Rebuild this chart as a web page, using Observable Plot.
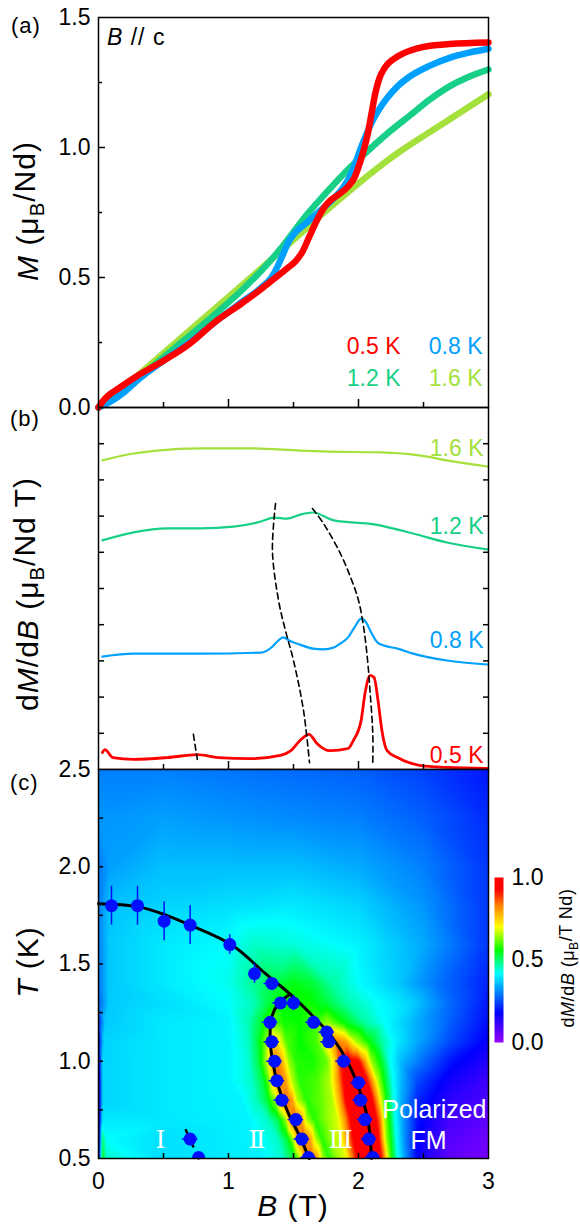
<!DOCTYPE html>
<html><head><meta charset="utf-8">
<script src="https://cdn.jsdelivr.net/npm/d3@7"></script>
<script src="https://cdn.jsdelivr.net/npm/@observablehq/plot@0.6"></script>
<style>
body{margin:0;background:#fff;}
#wrap{position:relative;width:580px;height:1226px;overflow:hidden;background:#fff;}
#wrap svg{position:absolute;left:0;top:0;}
</style></head><body><div id="wrap"></div>
<script>
// ---------- data ----------
const temps = ["0.5 K", "0.8 K", "1.2 K", "1.6 K"];
const tempColors = ["#ff0000", "#00a0ff", "#17cf86", "#a4e13c"];

// (a) magnetization M (muB/Nd) vs B (T)
const M05 = [[0,0],[0.03,0.022],[0.08,0.048],[0.15,0.072],[0.3,0.122],[0.5,0.18],[0.7,0.245],[0.9,0.33],[1.1,0.40],[1.25,0.455],[1.35,0.495],[1.45,0.535],[1.52,0.565],[1.57,0.6],[1.62,0.655],[1.68,0.72],[1.73,0.765],[1.78,0.795],[1.85,0.82],[1.92,0.85],[1.97,0.885],[2.0,0.925],[2.04,0.99],[2.07,1.05],[2.1,1.13],[2.13,1.21],[2.16,1.265],[2.2,1.305],[2.3,1.35],[2.4,1.373],[2.5,1.387],[2.7,1.398],[3.0,1.404]];
const M08 = [[0,0],[0.1,0.025],[0.2,0.06],[0.3,0.105],[0.5,0.18],[0.7,0.25],[0.9,0.33],[1.1,0.405],[1.25,0.46],[1.33,0.5],[1.38,0.545],[1.42,0.59],[1.46,0.635],[1.5,0.665],[1.6,0.71],[1.7,0.755],[1.8,0.8],[1.88,0.845],[1.94,0.895],[1.98,0.945],[2.02,1.0],[2.06,1.05],[2.1,1.095],[2.15,1.14],[2.22,1.19],[2.3,1.235],[2.4,1.275],[2.55,1.315],[2.7,1.345],[2.85,1.365],[3.0,1.38]];
const M12 = [[0,0],[0.15,0.05],[0.3,0.11],[0.6,0.235],[0.9,0.36],[1.1,0.45],[1.25,0.525],[1.4,0.61],[1.5,0.675],[1.6,0.74],[1.75,0.825],[1.86,0.885],[1.96,0.935],[2.1,1.0],[2.22,1.053],[2.4,1.125],[2.55,1.185],[2.7,1.235],[2.85,1.272],[3.0,1.30]];
const M16 = [[0,0],[0.15,0.055],[0.3,0.122],[0.6,0.252],[0.9,0.382],[1.1,0.468],[1.3,0.556],[1.5,0.645],[1.73,0.748],[2.0,0.862],[2.25,0.96],[2.55,1.06],[2.8,1.14],[3.0,1.205]];

// (b) dM/dB curves, vertically offset (arbitrary units)
const D05 = [[0.03,0.47],[0.05,0.55],[0.11,0.33],[0.27,0.28],[0.53,0.33],[0.76,0.41],[0.92,0.33],[1.17,0.30],[1.4,0.39],[1.48,0.52],[1.55,0.80],[1.62,0.97],[1.68,0.72],[1.78,0.52],[1.92,0.58],[1.96,0.80],[2.02,1.35],[2.05,2.10],[2.09,2.60],[2.12,2.54],[2.15,1.91],[2.18,1.08],[2.22,0.52],[2.3,0.33],[2.48,0.11],[2.68,0.06],[2.99,0.03]];
const D08 = [[0.03,3.12],[0.27,3.20],[0.78,3.20],[1.25,3.23],[1.33,3.37],[1.38,3.55],[1.42,3.65],[1.47,3.56],[1.55,3.45],[1.65,3.34],[1.73,3.32],[1.81,3.37],[1.86,3.48],[1.92,3.65],[1.97,3.93],[2.02,4.17],[2.06,4.06],[2.09,3.84],[2.146,3.51],[2.19,3.43],[2.3,3.34],[2.42,3.20],[2.68,3.01],[2.99,2.90]];
const D12 = [[0.03,6.33],[0.27,6.55],[0.53,6.66],[0.78,6.66],[1.04,6.71],[1.25,6.85],[1.35,6.96],[1.45,6.93],[1.55,7.04],[1.65,7.10],[1.81,6.88],[2.12,6.77],[2.42,6.52],[2.68,6.27],[2.99,6.08]];
const D16 = [[0.03,8.54],[0.27,8.73],[0.45,8.81],[0.78,8.87],[1.17,8.87],[1.55,8.81],[1.78,8.78],[2.17,8.76],[2.48,8.67],[2.68,8.54],[2.99,8.37]];
const guide1 = [[0.73,0.97],[0.76,0.28]];
const guide2 = [[1.362,7.35],[1.338,6.05],[1.385,4.67],[1.438,3.84],[1.50,3.01],[1.577,1.63],[1.623,0.19]];
const guide3 = [[1.646,7.21],[1.73,6.80],[1.86,5.97],[1.94,5.30],[2.0,4.67],[2.04,3.92],[2.07,3.01],[2.09,2.10],[2.11,0.99],[2.11,0.19]];

// (c) phase diagram: dM/dB map samples [B, value] per temperature row
const heatRows = [
 {T:2.5, s:[[0,0.30],[0.5,0.30],[1.0,0.29],[1.5,0.28],[2.0,0.27],[2.5,0.24],[3.0,0.20]]},
 {T:2.25,s:[[0,0.32],[0.5,0.33],[1.0,0.32],[1.5,0.31],[2.0,0.30],[2.5,0.27],[3.0,0.22]]},
 {T:2.0, s:[[0,0.29],[0.08,0.33],[0.5,0.36],[1.0,0.36],[1.5,0.36],[2.0,0.34],[2.5,0.30],[3.0,0.23]]},
 {T:1.8, s:[[0,0.30],[0.08,0.36],[0.5,0.38],[1.0,0.39],[1.5,0.40],[2.0,0.38],[2.5,0.32],[3.0,0.23]]},
 {T:1.6, s:[[0,0.30],[0.08,0.37],[0.5,0.40],[1.0,0.42],[1.2,0.45],[1.5,0.44],[2.0,0.41],[2.5,0.34],[3.0,0.23]]},
 {T:1.4, s:[[0,0.29],[0.08,0.37],[0.5,0.40],[1.0,0.43],[1.2,0.48],[1.35,0.52],[1.5,0.55],[1.65,0.53],[1.8,0.47],[2.0,0.42],[2.3,0.37],[2.6,0.29],[3.0,0.21]]},
 {T:1.3, s:[[0,0.27],[0.08,0.37],[0.5,0.39],[1.0,0.42],[1.2,0.46],[1.3,0.52],[1.4,0.56],[1.6,0.57],[1.75,0.53],[1.9,0.47],[2.1,0.43],[2.4,0.38],[2.7,0.28],[3.0,0.2]]},
 {T:1.2, s:[[0,0.22],[0.05,0.37],[0.5,0.40],[1.0,0.41],[1.15,0.46],[1.25,0.53],[1.33,0.62],[1.42,0.57],[1.55,0.56],[1.68,0.6],[1.76,0.64],[1.88,0.56],[2.05,0.47],[2.2,0.42],[2.4,0.36],[2.7,0.27],[3.0,0.19]]},
 {T:1.1, s:[[0,0.18],[0.04,0.38],[0.5,0.40],[1.0,0.41],[1.15,0.45],[1.22,0.52],[1.28,0.62],[1.33,0.74],[1.38,0.72],[1.45,0.6],[1.55,0.56],[1.68,0.6],[1.74,0.7],[1.83,0.84],[1.9,0.8],[1.98,0.66],[2.08,0.56],[2.18,0.47],[2.28,0.41],[2.45,0.34],[2.7,0.25],[3.0,0.17]]},
 {T:1.0, s:[[0,0.12],[0.03,0.38],[0.5,0.40],[1.0,0.41],[1.15,0.44],[1.23,0.52],[1.29,0.65],[1.33,0.78],[1.37,0.84],[1.41,0.78],[1.46,0.65],[1.52,0.58],[1.65,0.57],[1.76,0.62],[1.82,0.75],[1.86,0.9],[1.93,0.97],[2.0,0.94],[2.05,0.8],[2.1,0.64],[2.17,0.55],[2.24,0.43],[2.32,0.36],[2.5,0.28],[2.7,0.2],[3.0,0.14]]},
 {T:0.9, s:[[0,0.1],[0.03,0.38],[0.5,0.40],[1.0,0.41],[1.18,0.45],[1.26,0.52],[1.31,0.62],[1.35,0.77],[1.39,0.86],[1.44,0.8],[1.49,0.66],[1.55,0.58],[1.68,0.6],[1.78,0.66],[1.84,0.8],[1.88,0.92],[1.98,1.0],[2.06,0.95],[2.1,0.82],[2.15,0.66],[2.2,0.55],[2.26,0.43],[2.33,0.35],[2.45,0.25],[2.7,0.16],[3.0,0.11]]},
 {T:0.8, s:[[0,0.1],[0.03,0.38],[0.5,0.40],[1.1,0.41],[1.22,0.46],[1.3,0.53],[1.36,0.64],[1.4,0.8],[1.44,0.87],[1.49,0.8],[1.53,0.66],[1.6,0.58],[1.72,0.62],[1.8,0.66],[1.86,0.8],[1.9,0.93],[2.0,1.0],[2.1,0.96],[2.14,0.82],[2.18,0.66],[2.22,0.55],[2.27,0.43],[2.33,0.34],[2.45,0.22],[2.7,0.13],[3.0,0.09]]},
 {T:0.7, s:[[0,0.1],[0.03,0.4],[0.5,0.40],[1.15,0.41],[1.3,0.45],[1.38,0.52],[1.44,0.64],[1.47,0.8],[1.51,0.87],[1.56,0.8],[1.6,0.66],[1.66,0.58],[1.76,0.64],[1.84,0.68],[1.9,0.82],[1.94,0.94],[2.04,1.0],[2.13,0.96],[2.17,0.82],[2.2,0.66],[2.24,0.55],[2.28,0.43],[2.34,0.33],[2.45,0.2],[2.7,0.1],[3.0,0.07]]},
 {T:0.6, s:[[0,0.12],[0.03,0.5],[0.06,0.42],[0.5,0.39],[1.2,0.41],[1.38,0.45],[1.45,0.53],[1.5,0.66],[1.54,0.82],[1.58,0.87],[1.63,0.8],[1.67,0.66],[1.72,0.58],[1.8,0.65],[1.86,0.68],[1.92,0.82],[1.96,0.94],[2.06,1.0],[2.15,0.96],[2.18,0.82],[2.21,0.66],[2.25,0.55],[2.29,0.43],[2.35,0.32],[2.45,0.18],[2.7,0.08],[3.0,0.05]]},
 {T:0.5, s:[[0,0.15],[0.03,0.55],[0.06,0.45],[0.5,0.39],[1.25,0.41],[1.42,0.45],[1.5,0.53],[1.55,0.66],[1.59,0.82],[1.63,0.87],[1.68,0.8],[1.72,0.66],[1.77,0.58],[1.84,0.65],[1.9,0.68],[1.95,0.82],[1.99,0.94],[2.08,1.0],[2.17,0.96],[2.2,0.82],[2.23,0.66],[2.26,0.55],[2.3,0.43],[2.36,0.32],[2.46,0.17],[2.7,0.07],[3.0,0.04]]}
];
// phase points [B, T, errB, errT]
const phasePoints = [
 [0.10,1.80,0,0.10],[0.30,1.80,0,0.10],[0.505,1.72,0,0.10],[0.705,1.70,0,0.10],[1.01,1.60,0,0.05],
 [1.20,1.45,0,0.05],[1.333,1.40,0.06,0],[1.40,1.30,0.06,0],[1.50,1.30,0.05,0.04],[1.654,1.20,0.06,0],
 [1.756,1.15,0.06,0],[1.77,1.10,0.06,0],[1.885,1.00,0.06,0],[2.00,0.89,0.06,0],[2.015,0.80,0.06,0],
 [2.05,0.70,0.06,0],[2.08,0.60,0.06,0],[2.11,0.505,0.06,0],
 [1.32,1.20,0.06,0],[1.333,1.10,0.06,0],[1.354,1.00,0.06,0],[1.372,0.90,0.06,0],[1.41,0.80,0.06,0],
 [1.518,0.70,0.06,0],[1.564,0.60,0.06,0],[1.615,0.505,0.06,0],
 [0.705,0.60,0.06,0],[0.77,0.505,0,0]
];
const outerBoundary = [[0,1.81],[0.3,1.795],[0.513,1.753],[0.705,1.70],[1.026,1.598],[1.282,1.452],[1.474,1.345],[1.667,1.22],[1.795,1.125],[1.923,0.988],[2.026,0.816],[2.077,0.679],[2.10,0.5]];
const innerBoundary = [[1.474,1.345],[1.385,1.297],[1.333,1.229],[1.32,1.125],[1.338,1.005],[1.385,0.868],[1.462,0.73],[1.551,0.61],[1.62,0.5]];
const lowGuide = [[0.672,0.646],[0.77,0.5]];
const phaseNames = ["Ⅰ", "Ⅱ", "Ⅲ"];

const yTicksA = [0, 0.5, 1.0, 1.5];
const yTicksC = [0.5, 1.0, 1.5, 2.0, 2.5];
const xTicksC = [0, 1, 2, 3];
const cbTicks = [0, 0.5, 1.0];
const rainbowStops = [0, 0.18, 0.3, 0.42, 0.56, 0.7, 0.83, 0.93, 1];
const rainbowColors = ["#9a00ff", "#0000ff", "#0080ff", "#00ffff", "#00ff00", "#ffff00", "#ff8000", "#ff0000", "#ff0000"];

// ---------- layout ----------
const W = 580, H = 1226, L = 98, R = 92;
const aTop = 17, aBot = 407, bBot = 769, cBot = 1158;
const font = '"Liberation Sans", Arial, sans-serif';
const common = {width: W, height: H, marginLeft: L, marginRight: R,
  style: {background: "transparent", fontFamily: font, fontSize: "23px", overflow: "visible", color: "black"}};
const noText = () => "";
const colorScale = {type: "linear", domain: rainbowStops, range: rainbowColors, clamp: true, interpolate: "rgb"};
const P = () => ({x: d => d[0], y: d => d[1]});

const wrap = document.getElementById("wrap");

// Panel (a)
const seriesA = [M16, M12, M08, M05];
const colA = [tempColors[3], tempColors[2], tempColors[1], tempColors[0]];
const plotA = Plot.plot({...common, marginTop: aTop, marginBottom: H - aBot,
  x: {domain: [0, 3]}, y: {domain: [0, 1.5]},
  marks: [
    ...seriesA.map((s, i) => Plot.line(s, {...P(), stroke: colA[i], strokeWidth: 6.5, curve: "monotone-x"})),
    Plot.text([temps[0]], {frameAnchor: "bottom-right", dx: -88, dy: -54, fill: tempColors[0], textAnchor: "end", lineAnchor: "bottom", fontSize: 23}),
    Plot.text([temps[1]], {frameAnchor: "bottom-right", dx: -6, dy: -54, fill: tempColors[1], textAnchor: "end", lineAnchor: "bottom", fontSize: 23}),
    Plot.text([temps[2]], {frameAnchor: "bottom-right", dx: -88, dy: -22, fill: tempColors[2], textAnchor: "end", lineAnchor: "bottom", fontSize: 23}),
    Plot.text([temps[3]], {frameAnchor: "bottom-right", dx: -6, dy: -22, fill: tempColors[3], textAnchor: "end", lineAnchor: "bottom", fontSize: 23}),
    Plot.frame({stroke: "black", strokeWidth: 1.5}),
    Plot.axisY(yTicksA, {tickSize: 0, tickPadding: 8, tickFormat: ".1f", fontSize: 23, label: null}),
    Plot.axisY([0.5, 1.0], {tickSize: -7, tickFormat: noText, label: null, strokeWidth: 1.5}),
    Plot.axisY([0.25, 0.75, 1.25], {tickSize: -4, tickFormat: noText, label: null, strokeWidth: 1.5}),
    Plot.axisX([1, 2], {tickSize: -8, tickFormat: noText, label: null, strokeWidth: 1.5}),
    Plot.axisX([0.5, 1.5, 2.5], {tickSize: -5, tickFormat: noText, label: null, strokeWidth: 1.5})
  ]});
wrap.appendChild(plotA);

// Panel (b)
const seriesB = [D16, D12, D08, D05];
const colB = [tempColors[3], tempColors[2], tempColors[1], tempColors[0]];
const labB = [temps[3], temps[2], temps[1], temps[0]];
const labDy = [455 - aBot, 533 - aBot, 647 - aBot, 762 - aBot];
const plotB = Plot.plot({...common, marginTop: aBot, marginBottom: H - bBot,
  x: {domain: [0, 3]}, y: {domain: [0, 10]},
  marks: [
    ...seriesB.map((s, i) => Plot.line(s, {...P(), stroke: colB[i], strokeWidth: i === 3 ? 2.8 : 2.2, curve: "monotone-x"})),
    ...[guide1, guide2, guide3].map(g => Plot.line(g, {...P(), stroke: "black", strokeWidth: 1.6, strokeDasharray: "6,4", curve: "catmull-rom"})),
    ...labB.map((t, i) => Plot.text([t], {frameAnchor: "top-right", dx: -5, dy: labDy[i], fill: colB[i], textAnchor: "end", lineAnchor: "bottom", fontSize: 23})),
    Plot.frame({stroke: "black", strokeWidth: 1.5}),
    Plot.axisY(d3.range(1, 10), {anchor: "left", tickSize: -6, tickFormat: noText, label: null, strokeWidth: 1.5}),
    Plot.axisY(d3.range(1, 10), {anchor: "right", tickSize: -6, tickFormat: noText, label: null, strokeWidth: 1.5}),
    Plot.axisX([1, 2], {tickSize: -8, tickFormat: noText, label: null, strokeWidth: 1.5}),
    Plot.axisX([0.5, 1.5, 2.5], {tickSize: -5, tickFormat: noText, label: null, strokeWidth: 1.5})
  ]});
wrap.appendChild(plotB);

// Panel (c)
const heat = heatRows.flatMap(r => r.s.map(([B, v]) => ({B, T: r.T, v})));
const pts = phasePoints.map(([B, T, eB, eT]) => ({B, T, eB, eT}));
const romanStyle = {fill: "white", fontSize: 25, fontFamily: "DejaVu Serif", lineAnchor: "middle"};
const plotC = Plot.plot({...common, marginTop: bBot, marginBottom: H - cBot,
  x: {domain: [0, 3]}, y: {domain: [0.5, 2.5]}, color: colorScale,
  marks: [
    Plot.raster(heat, {x: "B", y: "T", fill: "v", interpolate: "barycentric", x1: 0, x2: 3, y1: 0.5, y2: 2.5}),
    Plot.line(outerBoundary, {...P(), stroke: "black", strokeWidth: 3, curve: "catmull-rom"}),
    Plot.line(innerBoundary, {...P(), stroke: "black", strokeWidth: 3, curve: "catmull-rom"}),
    Plot.line(lowGuide, {...P(), stroke: "black", strokeWidth: 2.5, strokeDasharray: "5,8"}),
    Plot.ruleX(pts.filter(d => d.eT > 0), {x: "B", y1: d => d.T - d.eT, y2: d => d.T + d.eT, stroke: "#0010ff", strokeWidth: 1.5}),
    Plot.ruleY(pts.filter(d => d.eB > 0), {y: "T", x1: d => d.B - d.eB, x2: d => d.B + d.eB, stroke: "#0010ff", strokeWidth: 1.5}),
    Plot.dot(pts, {x: "B", y: "T", r: 6.5, fill: "#0010ff", clip: "frame"}),
    Plot.text([phaseNames[0]], {frameAnchor: "bottom-left", dx: 57, dy: -19, ...romanStyle}),
    Plot.text([phaseNames[1]], {frameAnchor: "bottom-left", dx: 150, dy: -19, ...romanStyle}),
    Plot.text([phaseNames[2]], {frameAnchor: "bottom-left", dx: 230, dy: -19, ...romanStyle}),
    Plot.text(["Polarized"], {frameAnchor: "bottom-right", dx: -2, dy: -41, fill: "white", fontSize: 25, textAnchor: "end", lineAnchor: "bottom"}),
    Plot.text(["FM"], {frameAnchor: "bottom-right", dx: -60, dy: -10, fill: "white", fontSize: 25, textAnchor: "middle", lineAnchor: "bottom"}),
    Plot.frame({stroke: "black", strokeWidth: 1.5}),
    Plot.axisY(yTicksC, {tickSize: 0, tickPadding: 8, tickFormat: ".1f", fontSize: 23, label: null}),
    Plot.axisY(d3.range(0.75, 2.4, 0.25), {tickSize: -5, tickFormat: noText, label: null, strokeWidth: 1.5}),
    Plot.axisX(xTicksC, {tickSize: 0, tickPadding: 14, tickFormat: "d", fontSize: 23, label: null}),
    Plot.axisX([0.5, 1, 1.5, 2, 2.5], {tickSize: -5, tickFormat: noText, label: null, strokeWidth: 1.5})
  ]});
wrap.appendChild(plotC);

// Colorbar
const plotCB = Plot.plot({width: W, height: H, marginLeft: 494, marginRight: W - 503, marginTop: 877, marginBottom: H - 1042,
  style: common.style, x: {domain: [0, 1], axis: null}, y: {domain: [0, 1]}, color: colorScale,
  marks: [
    Plot.raster({fill: (x, y) => y, x1: 0, x2: 1, y1: 0, y2: 1}),
    Plot.axisY(cbTicks, {anchor: "right", tickSize: 0, tickPadding: 8, tickFormat: ".1f", fontSize: 23, label: null})
  ]});
wrap.appendChild(plotCB);

// ---------- overlay text (titles with italics/subscripts) ----------
const ov = d3.select(wrap).append("svg").attr("width", W).attr("height", H)
  .style("font-family", font).style("overflow", "visible");
function rich(x, y, size, parts, rotate, anchor) {
  const t = ov.append("text").attr("transform", `translate(${x},${y})` + (rotate ? " rotate(-90)" : ""))
    .attr("text-anchor", anchor || "middle").attr("font-size", size).attr("fill", "black")
    .style("letter-spacing", "1px");
  for (const p of parts) {
    const s = t.append("tspan").text(p.s);
    if (p.i) s.attr("font-style", "italic");
    if (p.sub) s.attr("font-size", "0.68em").attr("dy", "0.3em");
    if (p.up) s.attr("dy", "-0.3em");
  }
  return t;
}
rich(38, 211, 30, [{s: "M", i: 1}, {s: " (μ"}, {s: "B", sub: 1}, {s: "/Nd)", up: 1}], true);
rich(38, 594, 30, [{s: "d"}, {s: "M", i: 1}, {s: "/d"}, {s: "B", i: 1}, {s: " (μ"}, {s: "B", sub: 1}, {s: "/Nd T)", up: 1}], true);
rich(38, 962, 30, [{s: "T", i: 1}, {s: " (K)"}], true);
rich(293, 1216, 30, [{s: "B", i: 1}, {s: " (T)"}], false);
rich(574, 958, 18, [{s: "d"}, {s: "M", i: 1}, {s: "/d"}, {s: "B", i: 1}, {s: " (μ"}, {s: "B", sub: 1}, {s: "/T Nd)", up: 1}], true).style("letter-spacing", "0.5px");
rich(107, 45, 23, [{s: "B", i: 1}, {s: " // c"}], false, "start");
rich(11, 33, 22, [{s: "(a)"}], false, "start");
rich(10, 426, 22, [{s: "(b)"}], false, "start");
rich(10, 790, 22, [{s: "(c)"}], false, "start");
</script></body></html>
